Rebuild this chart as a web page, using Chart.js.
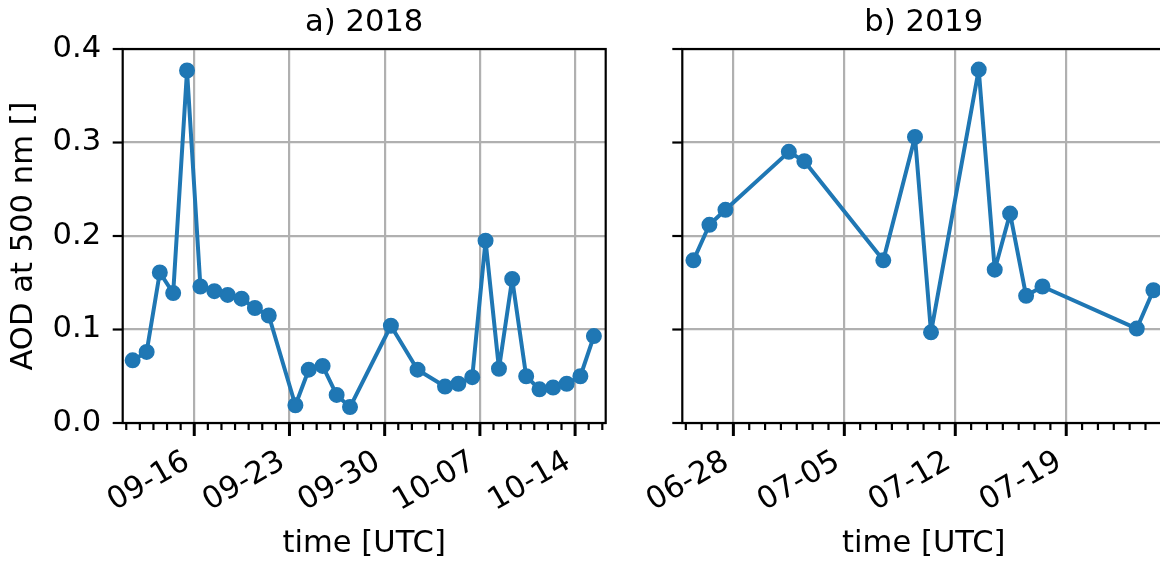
<!DOCTYPE html>
<html>
<head>
<meta charset="utf-8">
<script src="https://cdn.jsdelivr.net/npm/chart.js@4.4.1/dist/chart.umd.min.js"></script>
<style>
  html, body { margin: 0; padding: 0; background: #fff; overflow: hidden; width: 1160px; height: 561px; }
  .panel { position: absolute; top: 0; }
</style>
</head>
<body>
<div class="panel" style="left:0px"><canvas id="c2018" width="640" height="561"></canvas></div>
<div class="panel" style="left:640px"><canvas id="c2019" width="560" height="561"></canvas></div>
<script>
// ---- 2018 campaign: daily AOD at 500 nm ----
const times2018 = [
  '2018-09-11 11:15', '2018-09-12 12:00', '2018-09-13 11:15', '2018-09-14 10:50',
  '2018-09-15 11:15', '2018-09-16 10:50', '2018-09-17 11:30', '2018-09-18 11:00',
  '2018-09-19 11:30', '2018-09-20 11:00', '2018-09-21 11:30', '2018-09-23 10:30',
  '2018-09-24 10:00', '2018-09-25 10:30', '2018-09-26 11:15', '2018-09-27 10:50',
  '2018-09-30 11:00', '2018-10-02 10:00', '2018-10-04 10:30', '2018-10-05 10:00',
  '2018-10-06 10:30', '2018-10-07 10:00', '2018-10-08 09:40', '2018-10-09 09:00',
  '2018-10-10 09:40', '2018-10-11 09:10', '2018-10-12 09:10', '2018-10-13 09:10',
  '2018-10-14 09:20', '2018-10-15 09:10'
];
const aod2018 = [
  0.067, 0.076, 0.161, 0.139, 0.377, 0.146, 0.141, 0.137, 0.133, 0.123,
  0.115, 0.019, 0.057, 0.061, 0.030, 0.017, 0.104, 0.057, 0.039, 0.042,
  0.049, 0.195, 0.058, 0.154, 0.050, 0.036, 0.038, 0.042, 0.050, 0.093
];
const majorTicks2018 = ['2018-09-16', '2018-09-23', '2018-09-30', '2018-10-07', '2018-10-14'];
const range2018 = ['2018-09-10 17:45', '2018-10-16 06:00'];

// ---- 2019 campaign ----
const times2019 = [
  '2019-06-25 11:30', '2019-06-26 11:45', '2019-06-27 12:00', '2019-07-01 12:00',
  '2019-07-02 11:30', '2019-07-07 11:00', '2019-07-09 11:00', '2019-07-10 11:15',
  '2019-07-13 11:30', '2019-07-14 11:45', '2019-07-15 11:00', '2019-07-16 11:15',
  '2019-07-17 12:00', '2019-07-23 10:50', '2019-07-24 12:00'
];
const aod2019 = [
  0.174, 0.212, 0.228, 0.290, 0.280, 0.174, 0.306, 0.097,
  0.378, 0.164, 0.224, 0.136, 0.146, 0.101, 0.142
];
const majorTicks2019 = ['2019-06-28', '2019-07-05', '2019-07-12', '2019-07-19'];
const range2019 = ['2019-06-24 18:40', '2019-07-25 06:00'];

const yTicks = [0.0, 0.1, 0.2, 0.3, 0.4];

// dates are handled as fractional days since 1970-01-01 UTC
function toDays(s) {
  const [d, t] = s.split(' ');
  const [Y, M, D] = d.split('-').map(Number);
  const [h, m] = (t || '00:00').split(':').map(Number);
  return Date.UTC(Y, M - 1, D, h, m) / 86400000;
}
function mmdd(v) {
  const dt = new Date(Math.round(v) * 86400000);
  const mm = String(dt.getUTCMonth() + 1).padStart(2, '0');
  const dd = String(dt.getUTCDate()).padStart(2, '0');
  return mm + '-' + dd;
}

const FONT = "'DejaVu Sans', sans-serif";
const BLUE = '#1f77b4';
const GRID = '#b0b0b0';
const FONT_SIZE = 30.6;

// spines, major/minor tick marks and slanted date labels, drawn on top
const framePlugin = {
  id: 'frame',
  afterDraw(chart, args, opts) {
    const { ctx, chartArea: a, scales: { x, y } } = chart;
    ctx.save();
    ctx.strokeStyle = '#000';
    ctx.lineCap = 'butt';
    x.ticks.forEach(t => {
      const px = x.getPixelForValue(t.value);
      const major = opts.majors.includes(t.value);
      ctx.lineWidth = major ? 3 : 2.2;
      ctx.beginPath();
      ctx.moveTo(px, a.bottom);
      ctx.lineTo(px, a.bottom + (major ? 13 : 7));
      ctx.stroke();
    });
    y.ticks.forEach(t => {
      const py = y.getPixelForValue(t.value);
      ctx.lineWidth = 2.2;
      ctx.beginPath();
      ctx.moveTo(a.left - 10, py);
      ctx.lineTo(a.left, py);
      ctx.stroke();
    });
    ctx.lineWidth = 2.2;
    ctx.strokeRect(a.left, a.top, a.right - a.left, a.bottom - a.top);

    // date labels, rotated 30 degrees and right-aligned under the major ticks
    ctx.fillStyle = '#000';
    ctx.font = FONT_SIZE + 'px ' + FONT;
    ctx.textAlign = 'right';
    ctx.textBaseline = 'alphabetic';
    opts.majors.forEach(v => {
      const px = x.getPixelForValue(v);
      ctx.save();
      ctx.translate(px - 2.8, a.bottom + 43.4);
      ctx.rotate(-Math.PI / 6);
      ctx.fillText(mmdd(v), 0, 0);
      ctx.restore();
    });
    ctx.restore();
  }
};

function makePanel(id, title, times, values, majorList, range, cfg) {
  const xs = times.map(toDays);
  const majors = majorList.map(toDays);
  const xmin = toDays(range[0]);
  const xmax = toDays(range[1]);
  const days = [];
  for (let d = Math.ceil(xmin); d <= Math.floor(xmax); d++) days.push(d);

  return new Chart(document.getElementById(id), {
    type: 'line',
    data: {
      datasets: [{
        data: xs.map((x, i) => ({ x, y: values[i] })),
        borderColor: BLUE,
        backgroundColor: BLUE,
        borderWidth: 4,
        borderJoinStyle: 'round',
        borderCapStyle: 'round',
        pointRadius: 7,
        pointBorderWidth: 2,
        pointBorderColor: BLUE,
        pointBackgroundColor: BLUE,
        tension: 0,
        fill: false
      }]
    },
    options: {
      responsive: false,
      animation: false,
      devicePixelRatio: 1,
      layout: { padding: { left: 0, right: cfg.padRight, top: 0, bottom: 0 } },
      plugins: {
        legend: { display: false },
        tooltip: { enabled: false },
        title: {
          display: true,
          text: title,
          fullSize: false,
          color: '#000',
          font: { family: FONT, size: FONT_SIZE, weight: 'normal' },
          padding: { top: 4.4, bottom: 7.9 }
        },
        frame: { majors }
      },
      scales: {
        x: {
          type: 'linear',
          min: xmin,
          max: xmax,
          afterBuildTicks: s => { s.ticks = days.map(v => ({ value: v })); },
          afterFit: s => { s.height = 138; },
          grid: {
            color: c => (c.tick && majors.includes(c.tick.value)) ? GRID : 'rgba(0,0,0,0)',
            lineWidth: 2.2,
            drawTicks: false
          },
          border: { display: false },
          ticks: { display: false, autoSkip: false },
          title: {
            display: true,
            text: 'time [UTC]',
            color: '#000',
            font: { family: FONT, size: FONT_SIZE },
            padding: { top: 0, bottom: -1.8 }
          }
        },
        y: {
          type: 'linear',
          min: 0,
          max: 0.4,
          afterBuildTicks: s => { s.ticks = yTicks.map(v => ({ value: v })); },
          afterFit: s => { s.width = cfg.yWidth; },
          grid: { color: GRID, lineWidth: 2.2, drawTicks: false },
          border: { display: false },
          ticks: {
            display: cfg.yLabels,
            padding: 21.5,
            color: '#000',
            font: { family: FONT, size: FONT_SIZE },
            callback: v => v.toFixed(1)
          },
          title: {
            display: cfg.yLabels,
            text: 'AOD at 500 nm []',
            color: '#000',
            font: { family: FONT, size: FONT_SIZE },
            padding: { top: 6, bottom: 6 }
          }
        }
      }
    },
    plugins: [framePlugin]
  });
}

makePanel('c2018', 'a) 2018', times2018, aod2018, majorTicks2018, range2018,
  { yWidth: 122.7, padRight: 34.3, yLabels: true });
makePanel('c2019', 'b) 2019', times2019, aod2019, majorTicks2019, range2019,
  { yWidth: 42.3, padRight: 34.7, yLabels: false });
</script>
</body>
</html>
